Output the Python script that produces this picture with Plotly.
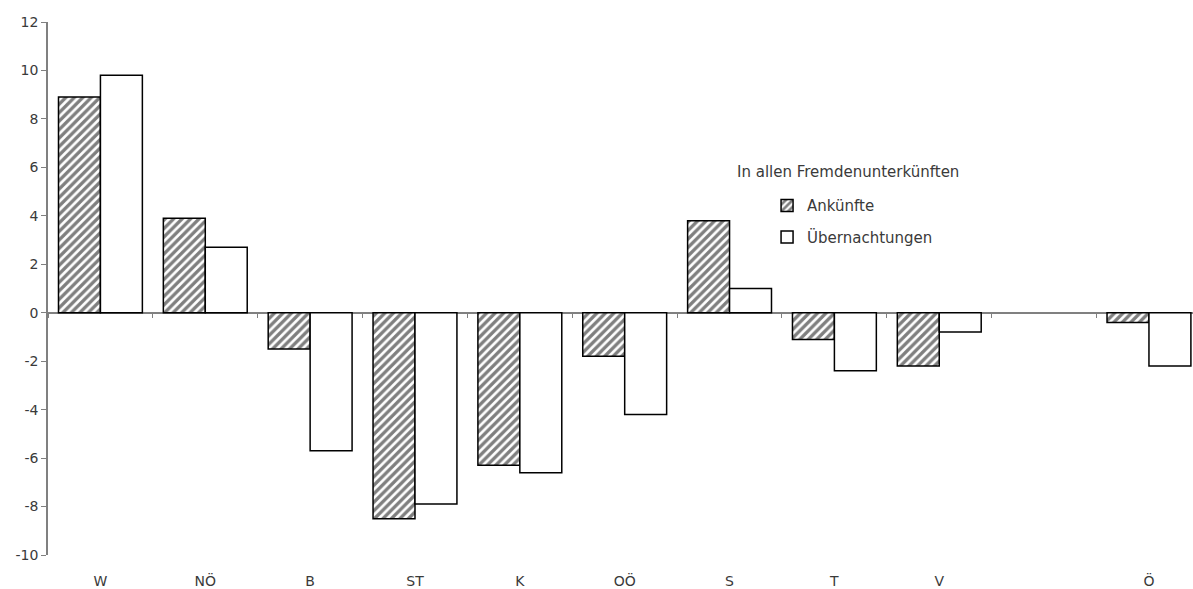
import plotly.graph_objects as go

# Regions (one empty slot between V and Ö)
regions = ["W", "NÖ", "B", "ST", "K", "OÖ", "S", "T", "V", " ", "Ö"]

# Change in %
ankuenfte = [8.9, 3.9, -1.5, -8.5, -6.3, -1.8, 3.8, -1.1, -2.2, None, -0.4]
uebernachtungen = [9.8, 2.7, -5.7, -7.9, -6.6, -4.2, 1.0, -2.4, -0.8, None, -2.2]

y_ticks = list(range(-10, 13, 2))
y_tick_labels = [str(v) for v in y_ticks]

FONT = "DejaVu Sans"
TEXT = "#3a3a3a"
AXIS = "#808080"

fig = go.Figure()

fig.add_trace(go.Bar(
    x=regions, y=ankuenfte, name="Ankünfte", legendgroup="a",
    marker=dict(
        color="white",
        line=dict(color="black", width=1.5),
        pattern=dict(shape="/", fgcolor="black", bgcolor="white",
                     size=6, solidity=0.55),
    ),
))
fig.add_trace(go.Bar(
    x=regions, y=uebernachtungen, name="Übernachtungen", legendgroup="b",
    marker=dict(color="white", line=dict(color="black", width=1.5)),
))

# Carrier trace for the category axis drawn along the zero line
fig.add_trace(go.Scatter(
    x=regions, y=[None] * len(regions), xaxis="x2", mode="markers",
    showlegend=False, hoverinfo="skip",
))

x_range = [-0.5, 10.42]
y_range = [y_ticks[0], y_ticks[-1]]

fig.update_layout(
    width=1193, height=589,
    margin=dict(l=48, r=0, t=22, b=31),
    paper_bgcolor="white", plot_bgcolor="white",
    font=dict(family=FONT, size=14, color=TEXT),
    barmode="group", bargap=0.2, bargroupgap=0,
    showlegend=True,
    legend=dict(
        x=0.628, y=0.686, xanchor="left", yanchor="top",
        bgcolor="rgba(0,0,0,0)", tracegroupgap=9,
        font=dict(family=FONT, size=15, color=TEXT),
        itemwidth=30,
    ),
    xaxis=dict(
        type="category", categoryorder="array", categoryarray=regions,
        range=x_range, showgrid=False, zeroline=False, showline=False,
        ticks="outside", ticklen=13, tickcolor="rgba(0,0,0,0)",
        tickfont=dict(family=FONT, size=14, color=TEXT),
    ),
    xaxis2=dict(
        type="category", categoryorder="array", categoryarray=regions,
        overlaying="x", matches="x", anchor="free",
        position=(0 - y_range[0]) / (y_range[1] - y_range[0]),
        side="bottom", range=x_range,
        showgrid=False, zeroline=False, showline=True,
        linecolor=AXIS, linewidth=1.5,
        ticks="outside", tickson="boundaries", ticklen=5,
        tickcolor=AXIS, tickwidth=1, showticklabels=False,
        layer="below traces",
    ),
    yaxis=dict(
        range=y_range, tickvals=y_ticks, ticktext=y_tick_labels,
        showgrid=False, zeroline=False,
        showline=True, linecolor=AXIS, linewidth=1.5,
        ticks="outside", ticklen=5, tickcolor=AXIS,
        tickfont=dict(family=FONT, size=14, color=TEXT),
    ),
    annotations=[dict(
        text="In allen Fremdenunterkünften", xref="paper", yref="paper",
        x=0.6, y=0.718, xanchor="left", yanchor="middle", showarrow=False,
        font=dict(family=FONT, size=15, color=TEXT),
    )],
)

fig.write_html("out.html")
